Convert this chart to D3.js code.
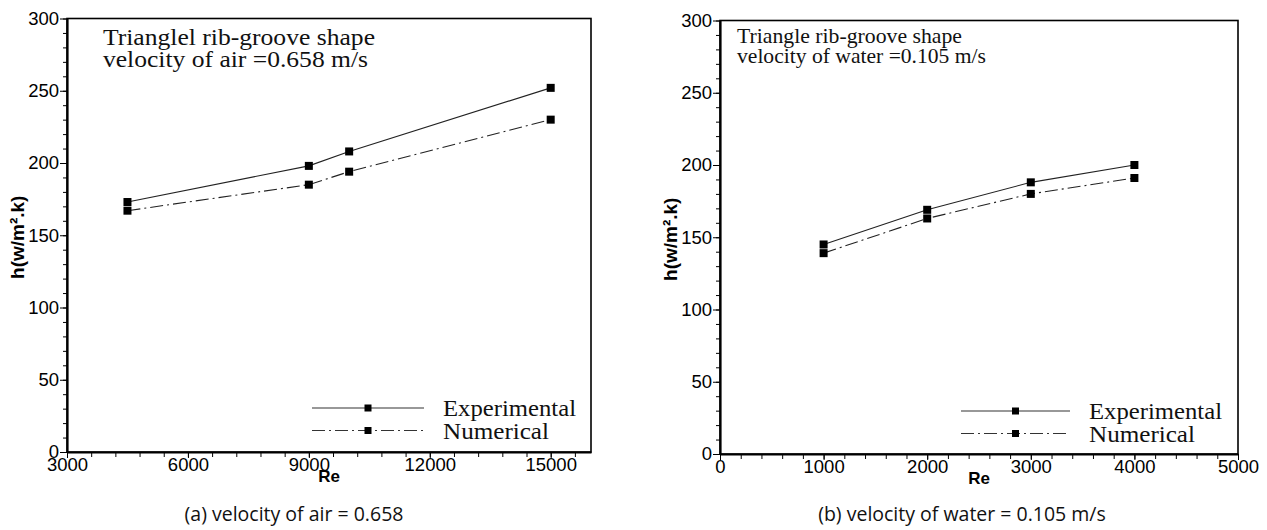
<!DOCTYPE html>
<meta charset="utf-8">
<script src="https://d3js.org/d3.v7.min.js"></script>
<style>
  body { margin: 0; background: #fff; }
  .serif { font-family: "Liberation Serif", "Times New Roman", serif; fill: #111; }
</style>
<div id="chart"></div>
<script>
// panel (a): air
var reA = [4500, 9000, 10000, 15000];
var expA = [173, 198, 208, 252];
var numA = [167, 185, 194, 230];
var xTicksA = [3000, 6000, 9000, 12000, 15000];

// panel (b): water
var reB = [1000, 2000, 3000, 4000];
var expB = [145, 169, 188, 200];
var numB = [139, 163, 180, 191];
var xTicksB = [0, 1000, 2000, 3000, 4000, 5000];

var yTicks = [0, 50, 100, 150, 200, 250, 300];

var svg = d3.select('#chart').append('svg')
    .attr('width', 1267)
    .attr('height', 530);

function styleTicks(a) {
  a.selectAll('text')
    .attr('font-family', '"Liberation Sans", Arial, sans-serif')
    .attr('font-size', 18.5)
    .attr('fill', '#000');
}

function panel(p) {
  var x = d3.scaleLinear().domain(p.xDomain).range([p.left, p.right]);
  var y = d3.scaleLinear().domain([0, 300]).range([p.bottom, p.top]);
  var g = svg.append('g');

  // frame
  g.append('rect')
    .attr('x', p.left).attr('y', p.top)
    .attr('width', p.right - p.left).attr('height', p.bottom - p.top)
    .attr('fill', 'none').attr('stroke', '#000').attr('stroke-width', 1.6);

  // minor ticks
  g.append('g').attr('transform', 'translate(' + p.left + ',0)')
    .call(d3.axisLeft(y).tickValues(d3.range(0, 301, 10)).tickSize(4).tickFormat(''))
    .call(a => a.select('.domain').remove());
  g.append('g').attr('transform', 'translate(0,' + p.bottom + ')')
    .call(d3.axisBottom(x).tickValues(d3.range(p.xDomain[0], p.xDomain[1] + 1, p.minor)).tickSize(5).tickFormat(''))
    .call(a => a.select('.domain').remove());

  // major axes
  g.append('g').attr('transform', 'translate(' + p.left + ',0)')
    .call(d3.axisLeft(y).tickValues(yTicks).tickSize(7).tickPadding(1).tickSizeOuter(0).tickFormat(d3.format('d')))
    .call(a => a.select('.domain').attr('stroke-width', 2.2))
    .call(styleTicks);
  g.append('g').attr('transform', 'translate(0,' + p.bottom + ')')
    .call(d3.axisBottom(x).tickValues(p.xTicks).tickSize(6).tickPadding(0).tickSizeOuter(0).tickFormat(d3.format('d')))
    .call(a => a.select('.domain').attr('stroke-width', 2.2))
    .call(styleTicks);

  // axis titles
  g.append('text')
    .attr('transform', 'translate(' + p.yTitleX + ',' + ((p.top + p.bottom) / 2 + 2) + ') rotate(-90)')
    .attr('text-anchor', 'middle')
    .style('font-family', '"Liberation Sans", Arial, sans-serif')
    .style('font-weight', 'bold').style('font-size', '19px')
    .text('h(w/m².k)');
  g.append('text')
    .attr('x', (p.left + p.right) / 2).attr('y', p.bottom + 30)
    .attr('text-anchor', 'middle')
    .style('font-family', '"Liberation Sans", Arial, sans-serif')
    .style('font-weight', 'bold').style('font-size', '17px')
    .text('Re');

  // lines + markers
  var series = [
    {vals: p.exp, dash: null},
    {vals: p.num, dash: '13,4,2,4'}
  ];
  var line = d3.line().x(d => x(d[0])).y(d => y(d[1]));
  series.forEach(function(s) {
    var pts = p.re.map((r, i) => [r, s.vals[i]]);
    g.append('path').datum(pts)
      .attr('d', line)
      .attr('fill', 'none').attr('stroke', '#222').attr('stroke-width', 1.1)
      .attr('stroke-dasharray', s.dash);
    g.selectAll(null).data(pts).enter().append('rect')
      .attr('x', d => x(d[0]) - 4).attr('y', d => y(d[1]) - 4)
      .attr('width', 8).attr('height', 8).attr('fill', '#000');
  });

  // annotation
  p.note.forEach(function(t, i) {
    g.append('text').attr('class', 'serif')
      .attr('x', p.noteX).attr('y', p.noteY + i * p.noteGap)
      .style('font-size', p.noteSize + 'px')
      .attr('textLength', p.noteLen[i]).attr('lengthAdjust', 'spacingAndGlyphs')
      .text(t);
  });

  // legend
  var names = ['Experimental', 'Numerical'];
  var lens = [133, 106];
  names.forEach(function(n, i) {
    var ly = p.legY + i * 22.5;
    g.append('line')
      .attr('x1', p.legX1).attr('x2', p.legX2).attr('y1', ly).attr('y2', ly)
      .attr('stroke', '#333').attr('stroke-width', 1.1)
      .attr('stroke-dasharray', series[i].dash);
    g.append('rect')
      .attr('x', (p.legX1 + p.legX2) / 2 - 3.5).attr('y', ly - 3.5)
      .attr('width', 7).attr('height', 7).attr('fill', '#000');
    g.append('text').attr('class', 'serif')
      .attr('x', p.legX2 + 19).attr('y', ly + 8)
      .style('font-size', '24px')
      .attr('textLength', lens[i]).attr('lengthAdjust', 'spacingAndGlyphs')
      .text(n);
  });

  // caption
  svg.append('text')
    .attr('x', p.capX).attr('y', 521)
    .attr('text-anchor', 'middle')
    .style('font-family', '"Open Sans", "Noto Sans", sans-serif')
    .style('font-size', '19.5px').attr('fill', '#111')
    .text(p.caption);
}

panel({
  xDomain: [3000, 16000], xTicks: xTicksA, minor: 600,
  left: 67, right: 591, top: 18.5, bottom: 452,
  re: reA, exp: expA, num: numA,
  yTitleX: 24,
  note: ['Trianglel rib-groove shape', 'velocity of air =0.658 m/s'],
  noteX: 103, noteY: 45, noteGap: 22, noteSize: 24, noteLen: [272, 265],
  legX1: 312, legX2: 424, legY: 408,
  caption: '(a) velocity of air = 0.658', capX: 294
});

panel({
  xDomain: [0, 5000], xTicks: xTicksB, minor: 200,
  left: 720, right: 1238, top: 20.5, bottom: 454,
  re: reB, exp: expB, num: numB,
  yTitleX: 677,
  note: ['Triangle rib-groove shape', 'velocity of water =0.105 m/s'],
  noteX: 737, noteY: 43, noteGap: 20, noteSize: 21, noteLen: [225, 249],
  legX1: 961, legX2: 1070, legY: 411,
  caption: '(b) velocity of water = 0.105 m/s', capX: 962
});
</script>
